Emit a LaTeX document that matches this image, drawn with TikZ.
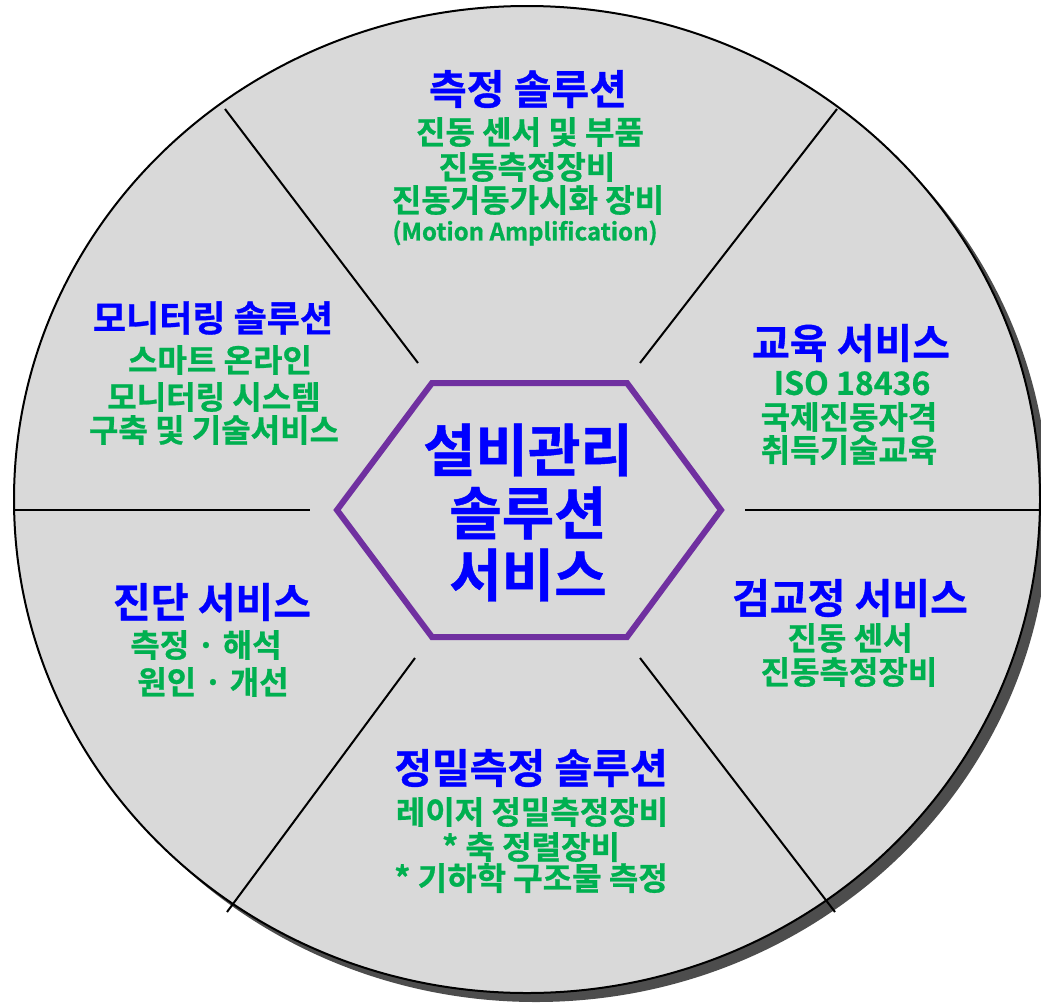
\documentclass[tikz,border=0pt]{standalone}
\usepackage{fontspec}
\newfontfamily\kr{Noto Sans CJK KR Bold}[FakeBold=0.8]
\definecolor{bluet}{HTML}{0000FF}
\definecolor{greent}{HTML}{00B050}
\definecolor{purp}{HTML}{7030A0}
\definecolor{fillg}{HTML}{D9D9D9}
\definecolor{shad}{HTML}{4D4D4D}
\begin{document}
\begin{tikzpicture}[x=1pt,y=-1pt,
  title/.style={font=\kr\fontsize{41}{41}\selectfont, text=bluet, inner sep=0pt},
  titlesm/.style={font=\kr\fontsize{36}{36}\selectfont, text=bluet, inner sep=0pt},
  sub/.style={font=\kr\fontsize{32}{32}\selectfont, text=greent, inner sep=0pt},
  small/.style={font=\kr\fontsize{24}{24}\selectfont, text=greent, inner sep=0pt},
  core/.style={font=\kr\fontsize{57}{57}\selectfont, text=bluet, inner sep=0pt},
  spoke/.style={draw=black, line width=2pt},
  hexa/.style={draw=purp, line width=6pt, line join=miter, fill=fillg}]
\useasboundingbox (0,0) rectangle (1041,1004);
\begin{scope}
\clip (0,0) rectangle (1041,1004);
% shadow and disc
\fill[shad] (536,508.5) ellipse [x radius=513, y radius=493.5];
\filldraw[fill=fillg, draw=black, line width=2pt] (527,499.5) ellipse [x radius=513, y radius=493.5];
% spokes
\coordinate (ul1) at (225,109); \coordinate (ul2) at (418,363);
\coordinate (ur1) at (837,109); \coordinate (ur2) at (640,363);
\coordinate (l1) at (14,510);   \coordinate (l2) at (310,510);
\coordinate (r1) at (745,510);  \coordinate (r2) at (1041,510);
\coordinate (ll1) at (415,658); \coordinate (ll2) at (227,912);
\coordinate (lr1) at (640,658); \coordinate (lr2) at (835,912);
\draw[spoke] (ul1) -- (ul2);
\draw[spoke] (ur1) -- (ur2);
\draw[spoke] (l1) -- (l2);
\draw[spoke] (r1) -- (r2);
\draw[spoke] (ll1) -- (ll2);
\draw[spoke] (lr1) -- (lr2);
\end{scope}
% hexagon
\draw[hexa] (432,383) -- (627,383) -- (721,510) -- (627,637) -- (432,637) -- (337,510) -- cycle;
\node[core] (c1) at (528,450) {설비관리};
\node[core] (c2) at (528,513) {솔루션};
\node[core] (c3) at (528,575) {서비스};
% top
\node[title] (t1) at (528,89) {측정 솔루션};
\node[sub] (t2) at (530,132) {진동 센서 및 부품};
\node[sub] (t3) at (527,167) {진동측정장비};
\node[sub] (t4) at (528,200) {진동거동가시화 장비};
\node[small] (t5) at (525,233) {(Motion Amplification)};
% upper left
\node[titlesm] (m1) at (213,318) {모니터링 솔루션};
\node[sub] (m2) at (220,360) {스마트 온라인};
\node[sub] (m3) at (214,397) {모니터링 시스템};
\node[sub] (m4) at (214,430) {구축 및 기술서비스};
% upper right
\node[title] (e1) at (851,343) {교육 서비스};
\node[sub] (e2) at (852,383) {ISO 18436};
\node[sub] (e3) at (849,417) {국제진동자격};
\node[sub] (e4) at (849,450) {취득기술교육};
% lower left
\node[title] (d1) at (212,602) {진단 서비스};
\node[sub] (d2) at (206,645) {측정 · 해석};
\node[sub] (d3) at (213,682) {원인 · 개선};
% lower right
\node[title] (k1) at (850,598) {검교정 서비스};
\node[sub] (k2) at (850,638) {진동 센서};
\node[sub] (k3) at (849,672) {진동측정장비};
% bottom
\node[title] (p1) at (531,768) {정밀측정 솔루션};
\node[sub] (p2) at (532,812) {레이저 정밀측정장비};
\node[sub] (p3) at (531,847) {* 축 정렬장비};
\node[sub] (p4) at (531,878) {* 기하학 구조물 측정};
\end{tikzpicture}
\end{document}
